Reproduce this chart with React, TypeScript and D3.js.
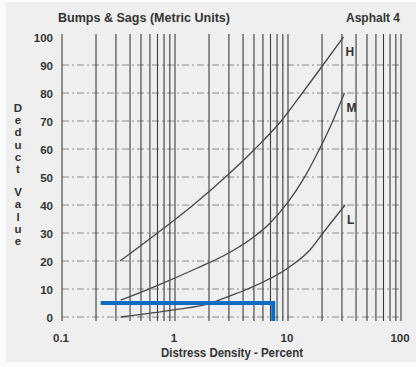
import React from "react";
import * as d3 from "d3";

// Deduct value curves for bumps & sags, by severity level (density %, deduct value)
const highCurve: [number, number][] = [
  [0.326, 20], [0.7, 30], [1.45, 40], [2.8, 50], [5.1, 60], [8.7, 70], [13.4, 80], [20.4, 90], [31, 100],
];
const mediumCurve: [number, number][] = [
  [0.33, 6], [0.63, 10.5], [1.58, 17.5], [2.88, 22.5], [4.57, 27.5], [6.92, 33.5], [10, 41], [13.8, 49.5], [18.2, 58.5], [24, 68.5], [31.6, 80],
];
const lowCurve: [number, number][] = [
  [0.33, 0], [1, 2.6], [2, 4.8], [3, 7.4], [4.4, 10], [10, 17.5], [15.7, 24], [20.4, 30], [32, 40],
];
const severityLabels = ["H", "M", "L"];

const yTicks = [0, 10, 20, 30, 40, 50, 60, 70, 80, 90, 100];
const xTickValues = [0.1, 1, 10, 100];
const xTickLabels = ["0.1", "1", "10", "100"];

// Reading of the chart: 7.4 % density gives a deduct value of 5
const readStart = 0.22;
const readDensity = 7.4;
const readDeduct = 5;

const yAxisTitle = "Deduct Value";

export default function App() {
  const W = 416;
  const H = 367;
  const x = d3.scaleLog().domain([0.1, 100]).range([62, 401]);
  const y = d3.scaleLinear().domain([0, 100]).range([317, 37]);
  const bottom = y(0) + 4;
  const top = y(100) - 3;

  const gridX: number[] = [];
  [0.1, 1, 10].forEach((d) => {
    for (let k = 1; k <= 9; k++) gridX.push(+(d * k).toPrecision(3));
  });
  gridX.push(100);

  const line = d3
    .line<[number, number]>()
    .x((d) => x(d[0]))
    .y((d) => y(d[1]))
    .curve(d3.curveMonotoneX);

  const curves = [highCurve, mediumCurve, lowCurve];
  const font = "'Liberation Sans', Arial, sans-serif";

  // vertical axis title, one letter per row with a gap between words
  const letters = yAxisTitle.split("");
  let rowY = 108;
  const letterRows = letters.map((ch) => {
    const r = { ch, y: rowY };
    rowY += ch === " " ? 11 : 12.2;
    return r;
  });

  return (
    <svg
      width={W}
      height={H}
      style={{ position: "absolute", left: 0, top: 0 }}
      fontFamily={font}
    >
      <defs>
        <clipPath id="titleClip">
          <rect x={0} y={12.5} width={W} height={20} />
        </clipPath>
      </defs>
      <rect x={0} y={0} width={W} height={H} fill="#fbfbfb" />
      <rect x={6} y={2} width={W - 6} height={360} fill="#efefef" />

      {/* horizontal dash-dot grid */}
      {yTicks.slice(0, -1).map((v) => (
        <line
          key={"h" + v}
          x1={x(0.1)}
          x2={x(100)}
          y1={y(v)}
          y2={y(v)}
          stroke="#8a8a8a"
          strokeWidth={1}
          strokeDasharray="7 3 2 3"
        />
      ))}

      {/* vertical log grid */}
      {gridX.map((v) => (
        <line
          key={"v" + v}
          x1={x(v)}
          x2={x(v)}
          y1={top}
          y2={bottom}
          stroke="#3c3c3c"
          strokeWidth={1.1}
        />
      ))}

      {/* curves */}
      {curves.map((c, i) => (
        <path key={"c" + i} d={line(c) || ""} fill="none" stroke="#474747" strokeWidth={1.3} />
      ))}

      {/* severity labels beside each curve end */}
      {curves.map((c, i) => {
        const last = c[c.length - 1];
        return (
          <text
            key={"s" + i}
            x={x(last[0]) + 2}
            y={y(last[1]) + 19}
            fontSize={12}
            fontWeight="bold"
            fill="#333"
          >
            {severityLabels[i]}
          </text>
        );
      })}

      {/* reading line */}
      <path
        d={`M${x(readStart)},${y(readDeduct)} H${x(readDensity)} V${bottom}`}
        fill="none"
        stroke="#0b6cc6"
        strokeWidth={4}
      />

      {/* y tick labels */}
      {yTicks.map((v) => (
        <text
          key={"yt" + v}
          x={53}
          y={y(v) + 4.5}
          textAnchor="end"
          fontSize={11.5}
          fontWeight="bold"
          fill="#333"
        >
          {v}
        </text>
      ))}

      {/* x tick labels */}
      {xTickValues.map((v, i) => (
        <text
          key={"xt" + v}
          x={x(v) - 1}
          y={342}
          textAnchor="middle"
          fontSize={11.5}
          fontWeight="bold"
          fill="#333"
        >
          {xTickLabels[i]}
        </text>
      ))}

      <text
        x={161}
        y={357}
        fontSize={12}
        fontWeight="bold"
        fill="#333"
        textLength={142}
        lengthAdjust="spacingAndGlyphs"
      >
        Distress Density - Percent
      </text>

      {letterRows.map((r, i) =>
        r.ch === " " ? null : (
          <text key={"l" + i} x={18} y={r.y + 4} textAnchor="middle" fontSize={11.5} fontWeight="bold" fill="#333">
            {r.ch}
          </text>
        )
      )}

      <text
        x={58}
        y={22}
        fontSize={13}
        fontWeight="bold"
        fill="#333"
        textLength={172}
        lengthAdjust="spacingAndGlyphs"
        clipPath="url(#titleClip)"
      >
        Bumps &amp; Sags (Metric Units)
      </text>
      <text x={400} y={22} textAnchor="end" fontSize={12} fontWeight="bold" fill="#333">
        Asphalt 4
      </text>
    </svg>
  );
}
